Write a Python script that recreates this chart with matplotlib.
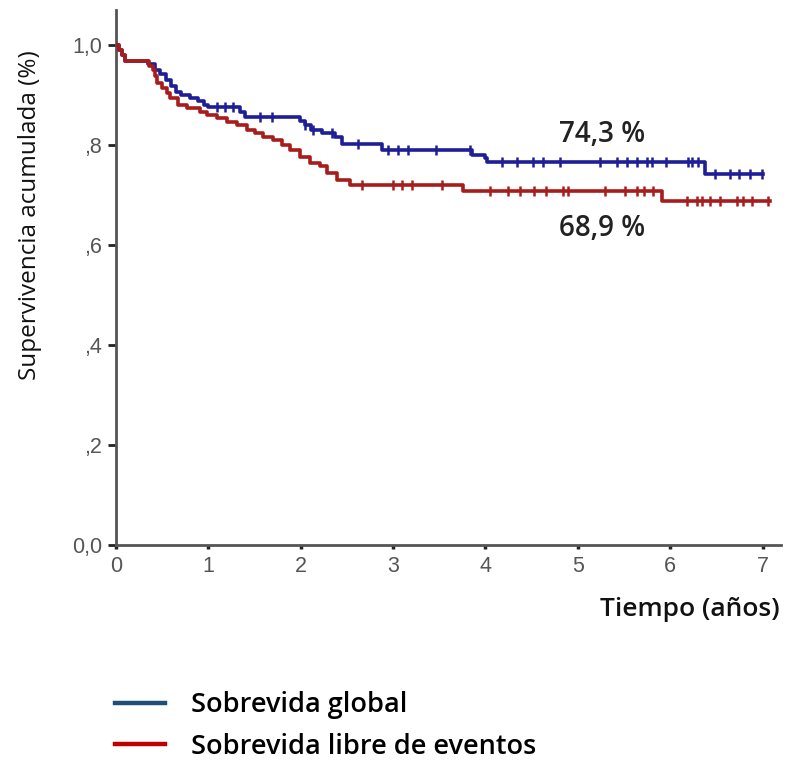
import numpy as np
import matplotlib
matplotlib.use("Agg")
import matplotlib.pyplot as plt
from matplotlib.lines import Line2D

# ---- data ----
os_times = [0.0, 0.032, 0.065, 0.097, 0.346, 0.422, 0.476, 0.541, 0.595, 0.649, 0.703, 0.80,
            0.887, 0.952, 0.996, 1.342, 1.396, 1.991, 2.045, 2.11, 2.23, 2.37, 2.446, 2.879,
            3.853, 3.99, 4.015, 6.374, 7.0]
os_surv = [1.0, 0.99, 0.98, 0.968, 0.962, 0.95, 0.942, 0.93, 0.918, 0.906, 0.90, 0.894,
           0.888, 0.88, 0.876, 0.866, 0.856, 0.848, 0.84, 0.83, 0.824, 0.816, 0.802, 0.79,
           0.78, 0.774, 0.766, 0.743, 0.743]
os_censor = [1.09, 1.18, 1.27, 1.56, 1.69, 2.05, 2.13, 2.34, 2.62, 2.94, 3.05, 3.16, 3.47,
             3.83, 4.18, 4.34, 4.51, 4.62, 4.81, 5.24, 5.42, 5.53, 5.64, 5.75, 5.80, 5.96,
             6.19, 6.24, 6.30, 6.48, 6.65, 6.75, 6.86, 6.99]

efs_times = [0.0, 0.032, 0.065, 0.097, 0.357, 0.40, 0.422, 0.444, 0.498, 0.552, 0.584, 0.671,
             0.768, 0.909, 0.985, 1.093, 1.201, 1.31, 1.418, 1.504, 1.591, 1.699, 1.797,
             1.883, 1.991, 2.10, 2.208, 2.284, 2.39, 2.53, 3.755, 5.909, 7.08]
efs_surv = [1.0, 0.99, 0.98, 0.968, 0.958, 0.95, 0.938, 0.924, 0.914, 0.904, 0.894, 0.88,
            0.874, 0.866, 0.86, 0.854, 0.846, 0.84, 0.83, 0.824, 0.816, 0.81, 0.80, 0.79,
            0.776, 0.764, 0.758, 0.744, 0.73, 0.72, 0.708, 0.689, 0.689]
efs_censor = [2.66, 3.0, 3.1, 3.2, 3.53, 4.05, 4.24, 4.37, 4.53, 4.66, 4.84, 4.89, 5.29,
              5.51, 5.64, 5.72, 5.81, 6.18, 6.29, 6.35, 6.43, 6.54, 6.72, 6.79, 6.89, 7.06]

y_ticks = [0.0, 0.2, 0.4, 0.6, 0.8, 1.0]
y_tick_labels = ["0,0", ",2", ",4", ",6", ",8", "1,0"]
x_ticks = [0, 1, 2, 3, 4, 5, 6, 7]
series_names = ["Sobrevida global", "Sobrevida libre de eventos"]
end_labels = ["74,3 %", "68,9 %"]

# ---- styles ----
c_os, c_efs = "#1e1e96", "#a81c1c"
leg_os, leg_efs = "#1f4e79", "#c00000"
txt_font = ["Open Sans", "DejaVu Sans"]
tick_font = ["Liberation Sans", "DejaVu Sans"]

fig = plt.figure(figsize=(7.89, 7.61), dpi=100)
ax = fig.add_axes([116 / 789, (761 - 545) / 761, 665 / 789, 535 / 761])


def step_value(times, surv, t):
    i = np.searchsorted(times, t, side="right") - 1
    return np.asarray(surv)[i]


ax.step(os_times, os_surv, where="post", color=c_os, lw=2.6, zorder=3)
ax.plot(os_censor, [step_value(os_times, os_surv, t) for t in os_censor], ls="none",
        marker="|", ms=7, mew=1.8, color=c_os, zorder=3)
ax.step(efs_times, efs_surv, where="post", color=c_efs, lw=2.6, zorder=4)
ax.plot(efs_censor, [step_value(efs_times, efs_surv, t) for t in efs_censor], ls="none",
        marker="|", ms=7, mew=1.8, color=c_efs, zorder=4)

ax.set_xlim(0, 7.2)
ax.set_ylim(0, 1.07)
ax.set_yticks(y_ticks)
ax.set_yticklabels(y_tick_labels)
ax.set_xticks(x_ticks)
ax.set_xticklabels([str(v) for v in x_ticks])
for s in ["top", "right"]:
    ax.spines[s].set_visible(False)
for s in ["left", "bottom"]:
    ax.spines[s].set_color("#555555")
    ax.spines[s].set_linewidth(2.0)
ax.tick_params(axis="y", direction="out", length=6, width=2, color="#222222",
               labelcolor="#555555", labelsize=15.5, pad=4)
ax.tick_params(axis="x", direction="out", length=3, width=2.5, color="#222222",
               labelcolor="#555555", labelsize=15.5, pad=5)
for lab in ax.get_xticklabels() + ax.get_yticklabels():
    lab.set_family(tick_font)

ax.set_ylabel("Supervivencia acumulada (%)", family=txt_font, fontsize=17.5, color="#111111")
ax.yaxis.set_label_coords(-0.111, 0.617)
fig.text(780 / 789, 1 - 610 / 761, "Tiempo (años)", family=txt_font, fontsize=19,
         weight="semibold", color="#111111", ha="right", va="center")

ax.text(4.8, 0.82, end_labels[0], family=txt_font, fontsize=20,
        weight="semibold", color="#222222", ha="left", va="center")
ax.text(4.8, 0.634, end_labels[1], family=txt_font, fontsize=20,
        weight="semibold", color="#222222", ha="left", va="center")

handles = [Line2D([], [], color=leg_os, lw=3.2), Line2D([], [], color=leg_efs, lw=3.2)]
fig.legend(handles, series_names, loc="center left", bbox_to_anchor=(91 / 789, 1 - 726 / 761),
           frameon=False, handlelength=1.85, handletextpad=0.93, labelspacing=0.5,
           prop={"family": txt_font, "size": 19.5, "weight": "semibold"})

fig.savefig("out.png", dpi=100)
